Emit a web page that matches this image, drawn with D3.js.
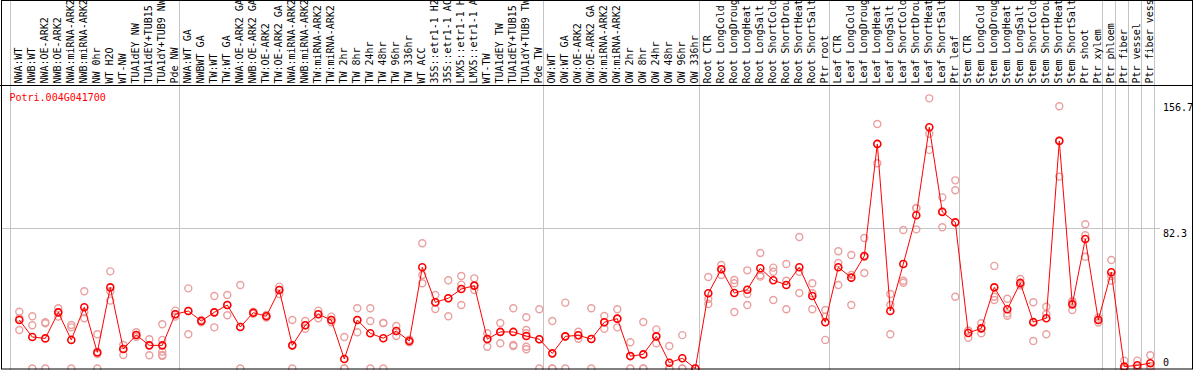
<!DOCTYPE html>
<html>
<head>
<meta charset="utf-8">
<script src="https://cdn.jsdelivr.net/npm/d3@7"></script>
<style>
  body { margin: 0; background: #fff; }
  text { font-family: 'DejaVu Sans Mono', monospace; font-size: 10px; }
</style>
</head>
<body>
<div id="chart"></div>
<script>
const title = 'Potri.004G041700'

const categories = [
  'NWA:WT', 'NWB:WT', 'NWA:OE-ARK2', 'NWB:OE-ARK2', 'NWA:miRNA-ARK2', 'NWB:miRNA-ARK2', 'NW 0hr', 'WT H2O', 'WT-NW',
  'TUA1dEY NW', 'TUA1dEY+TUB15', 'TUA1dY+TUB9 NW', 'Pde NW',
  'NWA:WT GA', 'NWBWT GA', 'TW:WT', 'TW:WT GA', 'NWA:OE-ARK2 GA', 'NWB:OE-ARK2 GA', 'TW:OE-ARK2', 'TW:OE-ARK2 GA',
  'NWA:miRNA-ARK2', 'NWB:miRNA-ARK2', 'TW:miRNA-ARK2', 'TW:miRNA-ARK2', 'TW 2hr', 'TW 8hr', 'TW 24hr', 'TW 48hr',
  'TW 96hr', 'TW 336hr', 'WT ACC', '35S::etr1-1 H2', '35S::etr1-1 AC', 'LMX5::etr1-1 H', 'LMX5::etr1-1 A', 'WT-TW',
  'TUA1dEY TW', 'TUA1dEY+TUB15', 'TUA1dY+TUB9 TW', 'Pde TW',
  'OW:WT', 'OW:WT GA', 'OW:OE-ARK2', 'OW:OE-ARK2 GA', 'OW:miRNA-ARK2', 'OW:miRNA-ARK2', 'OW 2hr', 'OW 8hr',
  'OW 24hr', 'OW 48hr', 'OW 96hr', 'OW 336hr',
  'Root CTR', 'Root LongCold', 'Root LongDroug', 'Root LongHeat', 'Root LongSalt', 'Root ShortCold', 'Root ShortDrou',
  'Root ShortHeat', 'Root ShortSalt', 'Ptr root',
  'Leaf CTR', 'Leaf LongCold', 'Leaf LongDroug', 'Leaf LongHeat', 'Leaf LongSalt', 'Leaf ShortCold', 'Leaf ShortDrou',
  'Leaf ShortHeat', 'Leaf ShortSalt', 'Ptr leaf',
  'Stem CTR', 'Stem LongCold', 'Stem LongDroug', 'Stem LongHeat', 'Stem LongSalt', 'Stem ShortCold', 'Stem ShortDrou',
  'Stem ShortHeat', 'Stem ShortSalt', 'Ptr shoot', 'Ptr xylem',
  'Ptr phloem', 'Ptr fiber', 'Ptr vessel', 'Ptr fiber vess'
]

// number of columns in each separated group
const groupSizes = [13, 28, 12, 10, 10, 11, 1, 1, 1, 1]

const means = [
  28.5, 18.5, 17.7, 33.0, 16.8, 36.0, 9.5, 47.7, 11.5, 19.7, 13.6, 13.6, 31.9,
  33.8, 27.9, 33.0, 37.3, 24.4, 32.8, 30.7, 46.1, 13.6, 25.4, 31.9, 28.5, 5.6, 28.5, 20.7, 17.8,
  22.0, 16.2, 59.5, 38.9, 41.3, 46.7, 48.7, 17.3, 21.5, 21.5, 19.1, 17.2,
  8.9, 18.9, 19.5, 17.3, 27.2, 29.3, 7.3, 8.3, 18.9, 3.4, 6.0, 0,
  44.2, 58.3, 44.4, 46.3, 58.9, 51.9, 49.1, 59.5, 42.6, 27.2,
  59.5, 53.4, 66.1, 132.0, 33.8, 61.4, 90.1, 141.8, 92.0, 85.9,
  20.9, 23.6, 47.7, 34.8, 50.3, 27.3, 29.5, 133.7, 37.7, 76.1, 28.5,
  56.6, 1.1, 1.9, 3.1
]

const replicates = [
  [33.4, 29.5, 22.6], [30.7, 25.4, 0], [27.2, 26.6, 0], [35.4, 33, 30.5], [25.6, 24.2, 0], [45.4, 33, 29.5],
  [20.1, 8.5, 0], [57.1, 45.4, 39.9], [13.8, 11.5, 7.9], [21.3, 19.7, 18.7], [17.2, 13.6, 7.8],
  [26, 16.8, 9.9, 7.9, 7.4], [34, 31.9, 30.5],
  [47.1, 33.8, 20.1], [28.5, 27.9, 27.2], [42.6, 33, 24.2], [43.2, 37.3, 31.3], [49.1, 24.4, 0], [33.4, 32.8, 32.2],
  [31.5, 30.7, 30], [48.1, 46.1, 43.8], [28.5, 13.6, 0], [27.9, 25.4, 23.4], [34, 31.9, 29.5], [30.5, 28.5, 27.2],
  [18.5, 0, 0], [35.4, 28.5, 21.3], [35.4, 27.9, 0], [26.7, 26.7, 0], [25, 22, 19.1], [17, 16.2, 15.4],
  [73.6, 55, 50.1], [43.2, 38.9, 35], [51.9, 41.3, 30.7], [54.4, 49.3, 37.3], [53, 48.7, 46.1], [20.7, 17.3, 12.8],
  [26.7, 21.5, 14.8], [35.4, 13.8, 13.2], [30.1, 22.6, 20.7, 12.8, 11.3], [34.8, 17.2, 0],
  [27.9, 0, 0], [38.7, 18.9, 0], [21.6, 19.5, 17.5], [35.4, 17.3, 0], [30.9, 27.2, 23.4], [34.8, 29.3, 24.2],
  [15.4, 7.3, 0], [27.3, 0, 0], [23, 18.9, 14.8], [13.2, 0, 0], [19.6, 0, 0], [0, 0, 0],
  [53.8, 40.9, 37.9], [60.8, 58.3, 55], [52, 50.1, 33.2], [57.7, 43.8, 37.3], [67.9, 54.8, 54], [59.3, 56.9, 40.3],
  [61.4, 51.6, 34.8], [77.3, 56.9, 44.4], [50.1, 44.2, 34.8], [34.4, 30.4, 16.8],
  [68.9, 62, 49.1], [66.7, 55, 37.3], [76.7, 65.5, 56.1], [143.7, 132, 120.6], [43.8, 37.3, 20.1],
  [81.4, 51.6, 50.4], [94.2, 94.3, 81.8], [158.8, 138, 128.5], [100.6, 92.4, 83], [110.6, 104.8, 42.2],
  [22.2, 22.2, 18.1], [26.6, 23.6, 20.7], [60.3, 42.2, 40.3], [41, 32.4, 31], [52.6, 49.5, 48.8],
  [38.9, 26.8, 16.2], [36.3, 32, 20.1], [154.1, 134.2, 112.8], [39.7, 38.9, 34.4], [84.8, 78.3, 65.7],
  [30, 28.5, 27],
  [63.8, 54.4, 51.6], [4.6, 0, 0], [4.6, 0, 0], [7.8, 1.5, 0]
]

const tickValues = [156.7, 82.3, 0]

const width = 1194
const height = 370
const headerBottom = 85.5
const colW = 13
const plotLeft = 10
const plotRight = plotLeft + categories.length * colW

const svg = d3.select('#chart').append('svg').attr('width', width).attr('height', height)

const x = d3.scaleBand().domain(d3.range(categories.length)).range([plotLeft, plotRight]).padding(0)
const cx = (i) => x(i) + 9.3
const y = d3.scaleLinear().domain([0, 156.7]).range([368.5, 101.9])

// group separator lines
let starts = [0]
groupSizes.forEach((s, i) => starts.push(starts[i] + s))
svg
  .selectAll('line.grp')
  .data(starts)
  .enter()
  .append('line')
  .attr('x1', (d) => Math.round(d < categories.length ? x(d) : plotRight) + 0.5)
  .attr('x2', (d) => Math.round(d < categories.length ? x(d) : plotRight) + 0.5)
  .attr('y1', 0)
  .attr('y2', height)
  .attr('stroke', '#c4c4c4')

// horizontal grid at the middle tick
svg
  .append('line')
  .attr('x1', 1)
  .attr('x2', 1160)
  .attr('y1', Math.round(y(82.3)) + 0.5)
  .attr('y2', Math.round(y(82.3)) + 0.5)
  .attr('stroke', '#c4c4c4')

// rotated column labels
svg
  .selectAll('text.cat')
  .data(categories)
  .enter()
  .append('text')
  .attr('transform', (d, i) => `translate(${x(i) + 12},83.5) rotate(-90)`)
  .attr('fill', '#000')
  .text((d) => d.slice(0, 14))

// right axis labels
svg
  .selectAll('text.tick')
  .data(tickValues)
  .enter()
  .append('text')
  .attr('x', 1163)
  .attr('y', (d) => (d === 0 ? y(d) - 3 : y(d) + 8.6))
  .attr('fill', '#000')
  .text((d) => d)

svg.append('text').attr('x', 9.5).attr('y', 101).attr('fill', 'red').text(title)

// replicate points
const reps = []
replicates.forEach((r, i) => r.forEach((v) => reps.push({ i, v })))
svg
  .selectAll('circle.rep')
  .data(reps)
  .enter()
  .append('circle')
  .attr('cx', (d) => cx(d.i))
  .attr('cy', (d) => y(d.v))
  .attr('r', 3.5)
  .attr('fill', 'none')
  .attr('stroke', '#eaa0a0')
  .attr('stroke-width', 1.4)

const line = d3
  .line()
  .x((d, i) => cx(i))
  .y((d) => y(d))
svg.append('path').attr('d', line(means)).attr('fill', 'none').attr('stroke', 'red').attr('stroke-width', 1)

svg
  .selectAll('circle.mean')
  .data(means)
  .enter()
  .append('circle')
  .attr('cx', (d, i) => cx(i))
  .attr('cy', (d) => y(d))
  .attr('r', 3.5)
  .attr('fill', 'none')
  .attr('stroke', 'red')
  .attr('stroke-width', 1.6)

// frame
svg.append('line').attr('x1', 0).attr('x2', width - 1).attr('y1', headerBottom).attr('y2', headerBottom).attr('stroke', '#000')
svg
  .append('rect')
  .attr('x', 1.5)
  .attr('y', 0.5)
  .attr('width', width - 3)
  .attr('height', height - 1.5)
  .attr('fill', 'none')
  .attr('stroke', '#000')
</script>
</body>
</html>
